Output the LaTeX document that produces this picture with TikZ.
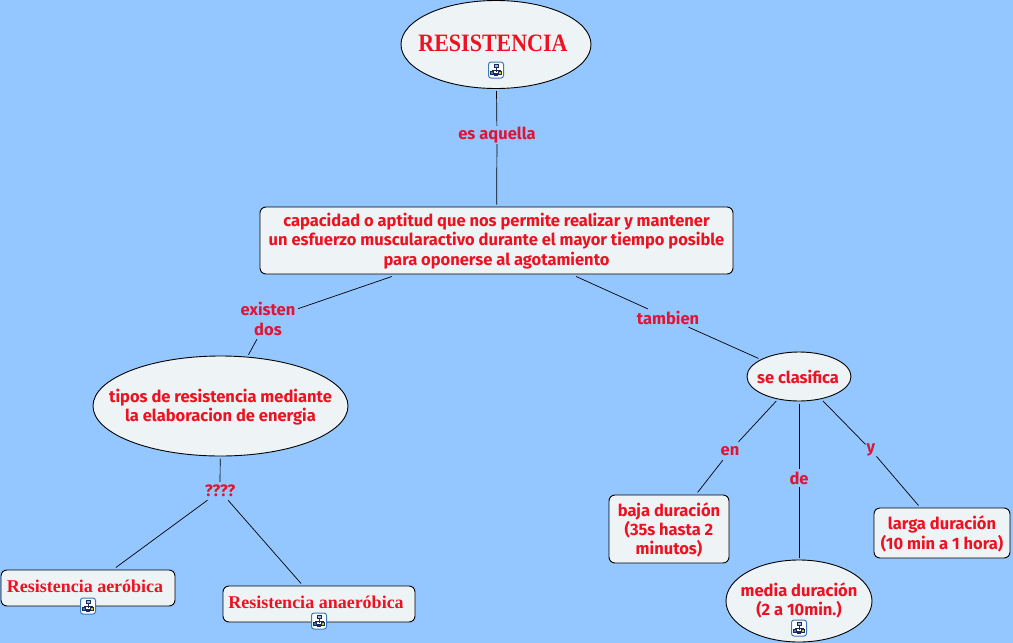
\documentclass[tikz,border=0pt]{standalone}
\usepackage{fontspec}
\setmainfont{Fira Sans}
\newfontfamily\titlefont{Liberation Serif}
\usetikzlibrary{shapes.geometric}
\definecolor{bgblue}{HTML}{94C6FF}
\definecolor{fillc}{HTML}{EEF4F6}
\definecolor{conceptred}{HTML}{EE1122}
\definecolor{labelred}{HTML}{E01535}
\definecolor{iconblue}{HTML}{3A78C0}
\definecolor{icondark}{HTML}{1C2A5A}
\tikzset{
  basefont/.style={font=\bfseries\fontsize{16.5}{19.3}\selectfont},
  concept/.style={draw=black,line width=0.9pt,fill=fillc,text=conceptred,align=center,inner sep=0pt,outer sep=2.5pt,basefont},
  boxc/.style={concept,rectangle,rounded corners=6pt},
  ellc/.style={concept,ellipse},
  linklabel/.style={text=labelred,align=center,inner ysep=0pt,inner xsep=1pt,minimum height=18pt,basefont},
  conn/.style={draw=black,line width=0.7pt},
  iconbox/.style={draw=iconblue,fill=white,line width=1pt,rounded corners=2.5pt,minimum width=15pt,minimum height=16pt,inner sep=0pt},
  freetext/.style={text=conceptred,inner sep=0pt,align=center,basefont},
  serifhead/.style={freetext,font=\titlefont\bfseries\fontsize{18}{18}\selectfont},
}
\newcommand{\treeicon}[2]{%
  \node[iconbox] (#1) at (#2) {};
  \begin{scope}[shift={(#1.center)},x=1pt,y=-1pt,line width=0.6pt,draw=icondark]
    \draw[fill=iconblue!50] (-2,-5.5) rectangle (2,-2.5);
    \draw (0,-2.5) -- (0,0) (-3.8,0) -- (3.8,0) (-3.8,0) -- (-3.8,2.2) (3.8,0) -- (3.8,2.2) (0,0) -- (0,2);
    \draw[fill=iconblue] (-5.3,1.5) rectangle (-2.3,4);
    \draw[fill=yellow!80!black] (2.3,1.5) rectangle (5.3,4);
    \draw[fill=icondark] (-1.3,3) rectangle (1.3,5.3);
  \end{scope}}
\begin{document}
\begin{tikzpicture}[x=1pt,y=-1pt]
\useasboundingbox (0,0) rectangle (1013,643);
\fill[bgblue] (0,0) rectangle (1013,643);
% concepts
\node[ellc,minimum width=190pt,minimum height=88pt] (res) at (496,44.5) {};
\node[freetext,font=\titlefont\bfseries\fontsize{25}{25}\selectfont] (restxt) at (493,43) {\scalebox{0.88}[1]{RESISTENCIA}};
\treeicon{resicon}{496,70}
\node[boxc,minimum width=473pt,minimum height=67pt] (cap) at (496.5,240.5) {};
\node[freetext] (captxt) at (496.5,241) {capacidad o aptitud que nos permite realizar y mantener\\un esfuerzo muscularactivo durante el mayor tiempo posible\\para oponerse al agotamiento};
\node[ellc,minimum width=255pt,minimum height=100pt] (tipos) at (220.5,406) {};
\node[freetext] (tipostxt) at (220.5,407) {tipos de resistencia mediante\\la elaboracion de energia};
\node[ellc,minimum width=104pt,minimum height=49pt] (secl) at (799,376.5) {};
\node[freetext] (secltxt) at (798,377) {se clasifica};
\node[boxc,minimum width=174pt,minimum height=36pt] (aer) at (88,588) {};
\node[serifhead] (aertxt) at (85,586) {Resistencia aeróbica};
\treeicon{aericon}{88,606}
\node[boxc,minimum width=192pt,minimum height=36pt] (ana) at (319,604) {};
\node[serifhead] (anatxt) at (316,602) {Resistencia anaeróbica};
\treeicon{anaicon}{319,621}
\node[boxc,minimum width=120pt,minimum height=68pt] (baja) at (669,529) {};
\node[freetext] (bajatxt) at (669,530) {baja duración\\(35s hasta 2\\minutos)};
\node[ellc,minimum width=146pt,minimum height=82pt] (media) at (799,601) {};
\node[freetext] (mediatxt) at (799,600.5) {media duración\\(2 a 10min.)};
\treeicon{mediaicon}{799,628}
\node[boxc,minimum width=136pt,minimum height=50pt] (larga) at (942,533) {};
\node[freetext] (largatxt) at (942,534) {larga duración\\(10 min a 1 hora)};
% linking phrases
\node[linklabel] (l1) at (497,135) {es aquella};
\node[linklabel,minimum height=40pt,minimum width=60pt] (l2) at (268,319) {existen\\dos};
\node[linklabel] (l3) at (668,318) {tambien};
\node[linklabel] (l4) at (220,491) {????};
\node[linklabel] (l5) at (730,451) {en};
\node[linklabel] (l6) at (799,478) {de};
\node[linklabel] (l7) at (871,450) {y};
% connectors
\draw[conn] (res) -- (l1);
\draw[conn] (l1) -- (cap);
\draw[conn] (cap) -- (l2);
\draw[conn] (l2) -- (tipos);
\draw[conn] (cap) -- (l3);
\draw[conn] (l3) -- (secl);
\draw[conn] (tipos) -- (l4);
\draw[conn] (l4) -- (aer);
\draw[conn] (l4) -- (ana);
\draw[conn] (secl) -- (l5);
\draw[conn] (l5) -- (baja);
\draw[conn] (secl) -- (l6);
\draw[conn] (l6) -- (media);
\draw[conn] (secl) -- (l7);
\draw[conn] (l7) -- (larga);
\end{tikzpicture}
\end{document}
